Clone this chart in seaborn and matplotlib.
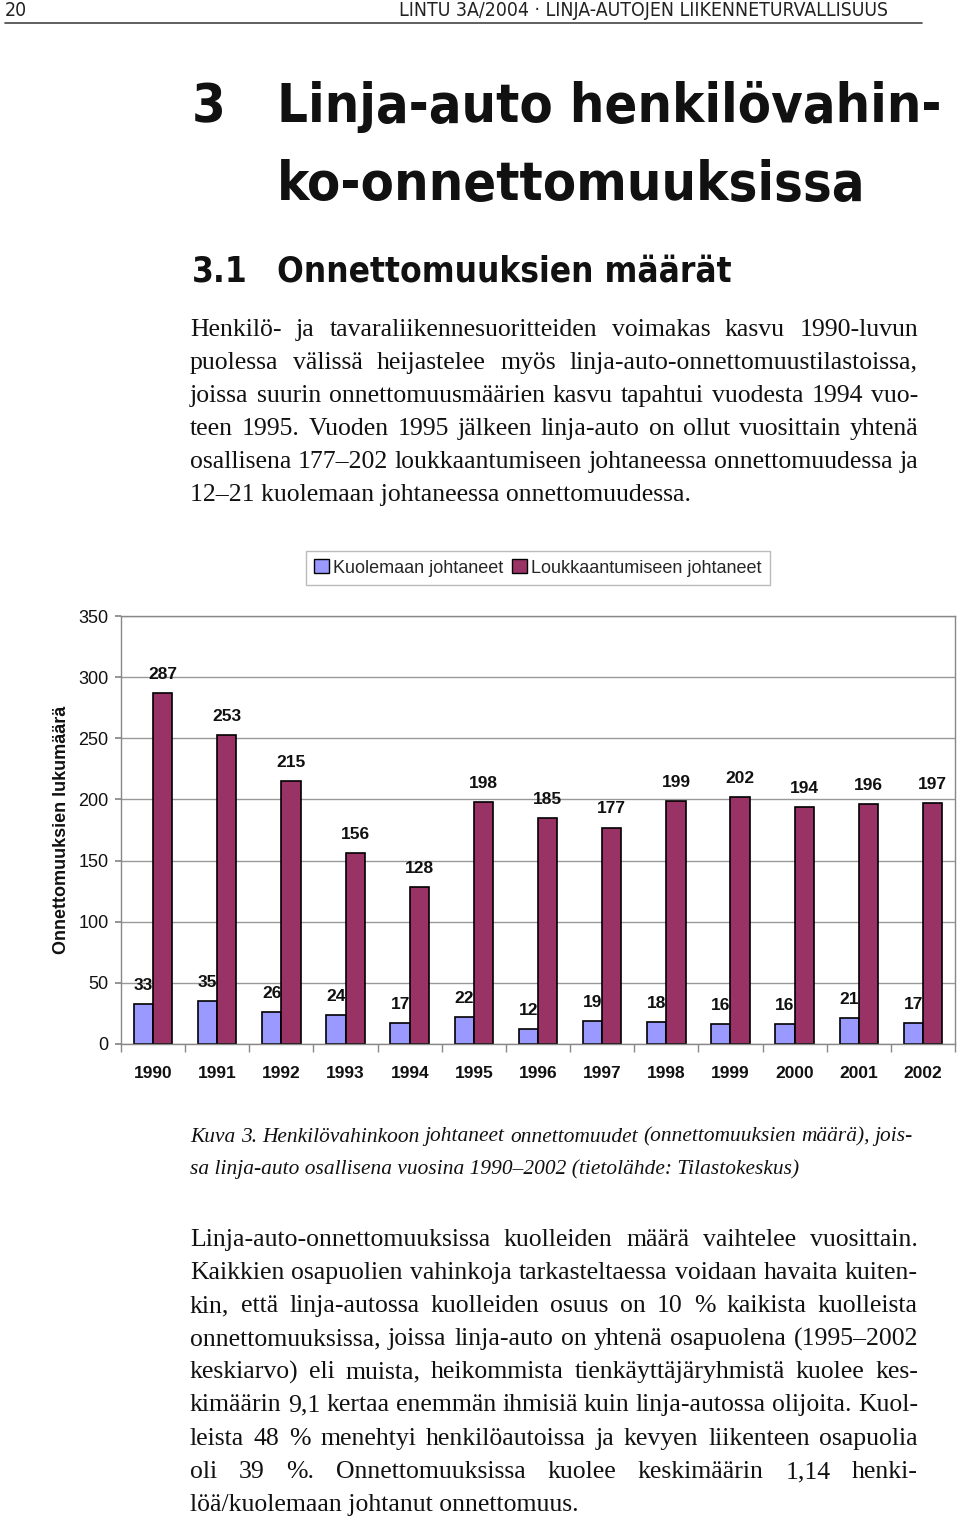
import matplotlib
matplotlib.use("Agg")
import matplotlib.pyplot as plt
import seaborn as sns
import pandas as pd
from matplotlib.ticker import FixedLocator

# ---------------- data ----------------
years = ["1990", "1991", "1992", "1993", "1994", "1995", "1996",
         "1997", "1998", "1999", "2000", "2001", "2002"]
deaths = [33, 35, 26, 24, 17, 22, 12, 19, 18, 16, 16, 21, 17]
injuries = [287, 253, 215, 156, 128, 198, 185, 177, 199, 202, 194, 196, 197]
series_names = ["Kuolemaan johtaneet", "Loukkaantumiseen johtaneet"]
y_ticks = [0, 50, 100, 150, 200, 250, 300, 350]

W, H = 960, 1520
sns.set_theme(style="white")
plt.rcParams["font.family"] = ["Liberation Sans", "DejaVu Sans"]

fig = plt.figure(figsize=(W / 100, H / 100), dpi=100)
renderer = fig.canvas.get_renderer()


def fx(x):
    return x / W


def fy(y):
    return 1 - y / H


def put(x, y, s, **kw):
    kw.setdefault("va", "center")
    return fig.text(fx(x), fy(y), s, **kw)


def fit_size(s, width, **kw):
    t = fig.text(0, 0, s, fontsize=20, **kw)
    w = t.get_window_extent(renderer).width
    t.remove()
    return 20 * width / w


def justify(x0, x1, y, line, **kw):
    words = line.split(" ")
    arts = [put(x0, y, w, ha="left", **kw) for w in words]
    widths = [a.get_window_extent(renderer).width for a in arts]
    gap = (x1 - x0 - sum(widths)) / max(len(words) - 1, 1)
    x = x0
    for a, w in zip(arts, widths):
        a.set_x(fx(x))
        x += w + gap


# ---------------- header ----------------
hdr = dict(family="DejaVu Sans", fontstretch="condensed", color="#222222")
hdr_text = "LINTU 3A/2004 · LINJA-AUTOJEN LIIKENNETURVALLISUUS"
hsize = fit_size(hdr_text, 490, **hdr)
put(5, 10, "20", ha="left", fontsize=hsize, **hdr)
put(888, 10, hdr_text, ha="right", fontsize=hsize, **hdr)
fig.add_artist(plt.Line2D([fx(5), fx(922)], [fy(23), fy(23)], color="#444444", lw=1.2))

# ---------------- headings ----------------
hd = dict(family="DejaVu Sans", fontstretch="condensed", fontweight="bold", color="#111111")
tsize = fit_size("ko-onnettomuuksissa", 589, **hd)
put(192, 107, "3", ha="left", fontsize=tsize, **hd)
put(277, 107, "Linja-auto henkilövahin-", ha="left", fontsize=tsize, **hd)
put(277, 185, "ko-onnettomuuksissa", ha="left", fontsize=tsize, **hd)
ssize = fit_size("Onnettomuuksien määrät", 455, **hd)
put(192, 272, "3.1", ha="left", fontsize=ssize, **hd)
put(277, 272, "Onnettomuuksien määrät", ha="left", fontsize=ssize, **hd)

# ---------------- body paragraph 1 ----------------
body = dict(family="Liberation Serif", fontsize=18.5, color="#111111")
p1 = [
    "Henkilö- ja tavaraliikennesuoritteiden voimakas kasvu 1990-luvun",
    "puolessa välissä heijastelee myös linja-auto-onnettomuustilastoissa,",
    "joissa suurin onnettomuusmäärien kasvu tapahtui vuodesta 1994 vuo-",
    "teen 1995. Vuoden 1995 jälkeen linja-auto on ollut vuosittain yhtenä",
    "osallisena 177–202 loukkaantumiseen johtaneessa onnettomuudessa ja",
]
for i, line in enumerate(p1):
    justify(190, 918, 330 + 33 * i, line, **body)
put(190, 495, "12–21 kuolemaan johtaneessa onnettomuudessa.", ha="left", **body)

# ---------------- caption ----------------
cap = dict(family="Liberation Serif", fontsize=15.4, style="italic", color="#111111")
justify(190, 913, 1137, "Kuva 3. Henkilövahinkoon johtaneet onnettomuudet (onnettomuuksien määrä), jois-", **cap)
put(190, 1169, "sa linja-auto osallisena vuosina 1990–2002 (tietolähde: Tilastokeskus)", ha="left", **cap)

# ---------------- body paragraph 2 ----------------
p2 = [
    "Linja-auto-onnettomuuksissa kuolleiden määrä vaihtelee vuosittain.",
    "Kaikkien osapuolien vahinkoja tarkasteltaessa voidaan havaita kuiten-",
    "kin, että linja-autossa kuolleiden osuus on 10 % kaikista kuolleista",
    "onnettomuuksissa, joissa linja-auto on yhtenä osapuolena (1995–2002",
    "keskiarvo) eli muista, heikommista tienkäyttäjäryhmistä kuolee kes-",
    "kimäärin 9,1 kertaa enemmän ihmisiä kuin linja-autossa olijoita. Kuol-",
    "leista 48 % menehtyi henkilöautoissa ja kevyen liikenteen osapuolia",
    "oli 39 %. Onnettomuuksissa kuolee keskimäärin 1,14 henki-",
]
ys2 = [1240, 1273, 1306, 1339, 1372, 1405, 1439, 1472]
for y, line in zip(ys2, p2):
    justify(190, 918, y, line, **body)
put(190, 1505, "löä/kuolemaan johtanut onnettomuus.", ha="left", **body)

# ---------------- chart ----------------
ax = fig.add_axes([fx(121), fy(1044), fx(955) - fx(121), (1044 - 616) / H])
df = pd.DataFrame({
    "year": years * 2,
    "value": deaths + injuries,
    "type": [series_names[0]] * len(years) + [series_names[1]] * len(years),
})
blue, maroon = "#9999FF", "#993366"
sns.barplot(data=df, x="year", y="value", hue="type", order=years,
            hue_order=series_names, palette=[blue, maroon], width=0.6,
            edgecolor="black", linewidth=1.2, saturation=1, ax=ax)

for cont in ax.containers:
    ax.bar_label(cont, padding=8, fontsize=12.5, fontweight="bold", color="#111111")

ax.set_xlim(-0.5, len(years) - 0.5)
ax.set_ylim(0, 350)
ax.set_yticks(y_ticks)
ax.yaxis.grid(True, color="#999999", lw=1)
ax.set_axisbelow(True)
for s in ax.spines.values():
    s.set_color("#888888")
    s.set_linewidth(1)
ax.tick_params(axis="y", which="major", left=True, length=4, color="#888888",
               labelsize=13, pad=5, labelcolor="#111111")
ax.tick_params(axis="x", which="major", bottom=False, length=0, labelsize=12.5,
               pad=16, labelcolor="#111111")
for lab in ax.get_xticklabels():
    lab.set_fontweight("bold")
ax.xaxis.set_minor_locator(FixedLocator([i - 0.5 for i in range(len(years) + 1)]))
ax.tick_params(axis="x", which="minor", bottom=True, length=6, color="#888888")
ax.set_xlabel("")
ax.set_ylabel("Onnettomuuksien lukumäärä", fontsize=13, fontweight="bold",
              color="#111111", labelpad=6)

ax.legend_.remove()
handles = [plt.Rectangle((0, 0), 1, 1, facecolor=c, edgecolor="black", lw=1)
           for c in (blue, maroon)]
fig.legend(handles, series_names, loc="center", bbox_to_anchor=(fx(538), fy(568)),
           ncol=2, fontsize=13, frameon=True, fancybox=False, edgecolor="#bbbbbb",
           handlelength=0.8, handleheight=0.8, handletextpad=0.25,
           columnspacing=0.5, borderpad=0.45, framealpha=1)

fig.savefig("out.png", dpi=100)
